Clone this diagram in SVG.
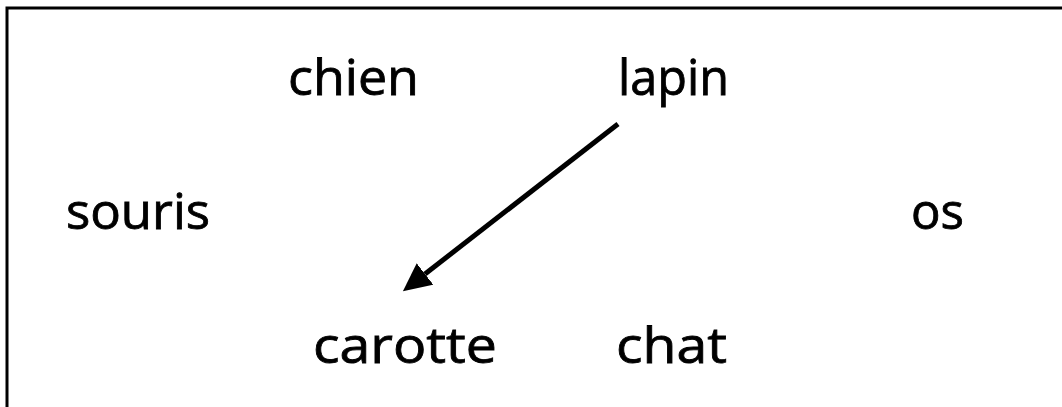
<svg xmlns="http://www.w3.org/2000/svg" width="1062" height="407" viewBox="0 0 1062 407">
  <style>
    .lbl { font-family: "Comic Sans MS", "Open Sans", sans-serif; font-size: 49px; fill: #000; stroke: #000; stroke-width: 0.8; }
    .edge { stroke: #000; stroke-width: 5; fill: none; }
  </style>
  <defs>
    <marker id="arrow" markerUnits="userSpaceOnUse" markerWidth="30" markerHeight="28" refX="0" refY="13.5" orient="auto">
      <path d="M0,0 L28,13.5 L0,27 z" fill="#000"/>
    </marker>
  </defs>
  <rect x="0" y="0" width="1062" height="407" fill="#fff"/>
  <rect id="frame" x="7" y="8" width="1100" height="500" fill="none" stroke="#000" stroke-width="3"/>
  <g id="node-chien"><text class="lbl" x="288" y="95" textLength="131" lengthAdjust="spacingAndGlyphs">chien</text></g>
  <g id="node-lapin"><text class="lbl" x="618" y="95" textLength="111" lengthAdjust="spacingAndGlyphs">lapin</text></g>
  <g id="node-souris"><text class="lbl" x="66" y="229" textLength="144" lengthAdjust="spacingAndGlyphs">souris</text></g>
  <g id="node-os"><text class="lbl" x="911" y="229" textLength="53" lengthAdjust="spacingAndGlyphs">os</text></g>
  <g id="node-carotte"><text class="lbl" x="313" y="363" textLength="184" lengthAdjust="spacingAndGlyphs">carotte</text></g>
  <g id="node-chat"><text class="lbl" x="616" y="363" textLength="111" lengthAdjust="spacingAndGlyphs">chat</text></g>
  <g id="connectors">
    <line class="edge" x1="618" y1="124" x2="425" y2="274" marker-end="url(#arrow)"/>
  </g>
</svg>
